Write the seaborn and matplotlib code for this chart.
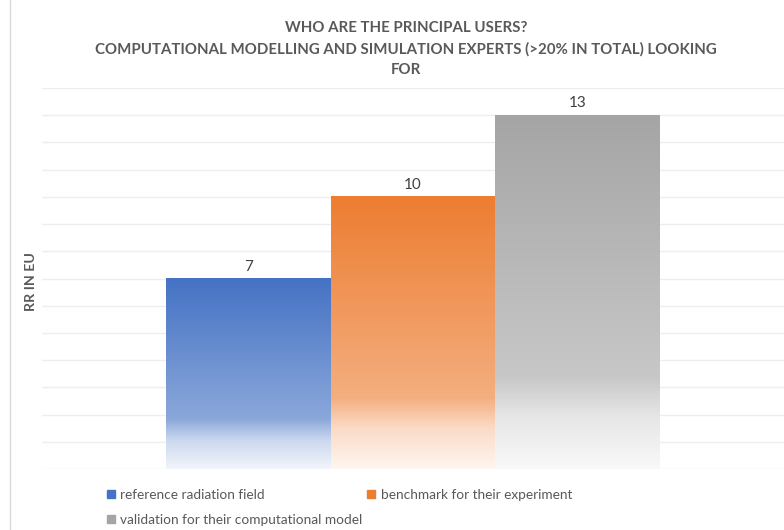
import numpy as np
import pandas as pd
import matplotlib
matplotlib.use("Agg")
import matplotlib.pyplot as plt
from matplotlib.colors import LinearSegmentedColormap, to_rgb
from matplotlib.lines import Line2D
import seaborn as sns

# Survey answers: what computational modellers are looking for
uses = ["reference radiation field",
        "benchmark for their experiment",
        "validation for their computational model"]
counts = [7, 10, 13]
base_colors = ["#4472C4", "#ED7D31", "#A5A5A5"]

title_lines = ["WHO ARE THE PRINCIPAL USERS?",
               "COMPUTATIONAL MODELLING AND SIMULATION EXPERTS (>20% IN TOTAL) LOOKING",
               "FOR"]
y_title = "RR IN EU"

sns.set_theme(style="white")
plt.rcParams["font.family"] = ["Lato", "DejaVu Sans"]

df = pd.DataFrame({"group": [""] * len(uses), "use": uses, "count": counts})

fig = plt.figure(figsize=(7.84, 5.30), dpi=100)
ax = fig.add_axes([42 / 784, 1 - 469 / 530, 1 - 42 / 784, (469 - 88) / 530])

sns.barplot(data=df, x="group", y="count", hue="use", hue_order=uses,
            palette=base_colors, width=0.8, dodge=True, ax=ax,
            legend=False, zorder=3)

ax.set_yticks(np.arange(0, 15, 1))
ax.yaxis.grid(True, color="#eeeeee", linewidth=1.0, zorder=0)
ax.set_axisbelow(True)
ax.tick_params(left=False, bottom=False, labelleft=False, labelbottom=False)
for s in ax.spines.values():
    s.set_visible(False)
ax.set_xlabel("")
ax.set_ylabel("")


def lighten(c, f):
    r = np.array(to_rgb(c))
    return tuple(r + (1 - r) * f)


# Replace each flat bar with a vertical fade toward white at its base
for patch, col in zip(ax.patches, base_colors):
    x0 = patch.get_x()
    w = patch.get_width()
    h = patch.get_height()
    cmap = LinearSegmentedColormap.from_list(
        "fade", [(0.0, to_rgb(col)), (0.74, lighten(col, 0.38)),
                 (0.85, lighten(col, 0.72)), (1.0, lighten(col, 0.93))])
    grad = np.linspace(0, 1, 256).reshape(-1, 1)
    ax.imshow(grad, cmap=cmap, aspect="auto", extent=[x0, x0 + w, 0, h],
              origin="upper", zorder=3, interpolation="bilinear")
    patch.set_facecolor("none")
    patch.set_edgecolor("none")
    ax.text(x0 + w / 2, h + 0.44, f"{h:g}", ha="center", va="center",
            fontsize=11, color="#404040", zorder=4)

ax.set_xlim(-0.6, 0.6)
ax.set_ylim(0, 14)

# Title
for i, line in enumerate(title_lines):
    fig.text(406 / 784, 1 - (28 + i * 21) / 530, line, ha="center", va="center",
             fontsize=10.8, fontweight="bold", color="#595959")

fig.text(31 / 784, 1 - 282 / 530, y_title, rotation=90, ha="center", va="center",
         fontsize=10.3, fontweight="bold", color="#595959")

# Legend: two columns, filled column by column
handles = [Line2D([], [], marker="s", linestyle="none", markersize=6,
                  markerfacecolor=c, markeredgecolor=c) for c in base_colors]
order = [0, 2, 1]
fig.legend([handles[i] for i in order], [uses[i] for i in order], ncol=2,
           frameon=False, loc="upper left",
           bbox_to_anchor=(99 / 784, 1 - 482 / 530), fontsize=9.8,
           labelcolor="#595959", handlelength=0.7, handletextpad=0.35,
           columnspacing=0.3, labelspacing=0.98, borderpad=0)

# Left frame edge
fig.add_artist(Line2D([10 / 784, 10 / 784], [0, 1], color="#d9d9d9", linewidth=1))

fig.savefig("out.png", dpi=100)
